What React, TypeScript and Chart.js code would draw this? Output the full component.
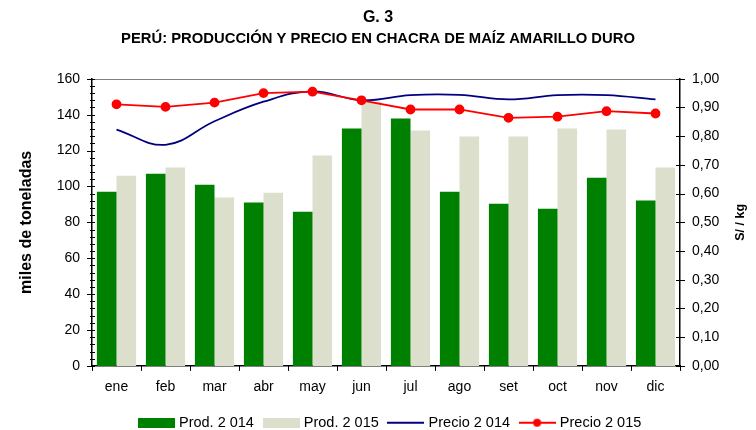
import { useEffect, useRef } from 'react';
import { Chart, registerables } from 'chart.js';

Chart.register(...registerables);

const months = ['ene', 'feb', 'mar', 'abr', 'may', 'jun', 'jul', 'ago', 'set', 'oct', 'nov', 'dic'];
const prod2014 = [97.1, 107.1, 101, 91, 85.9, 132.3, 137.8, 97.1, 90.4, 87.6, 104.9, 92.1];
const prod2015 = [106, 110.5, 93.8, 96.5, 117.2, 147.3, 131.1, 127.8, 127.8, 132.3, 131.7, 110.5];
const precio2014 = [0.823, 0.77, 0.852, 0.92, 0.956, 0.925, 0.943, 0.944, 0.928, 0.943, 0.943, 0.928];
const precio2015 = [0.911, 0.902, 0.917, 0.95, 0.955, 0.925, 0.893, 0.893, 0.864, 0.868, 0.887, 0.879];
const seriesNames = ['Prod. 2 014', 'Prod. 2 015', 'Precio 2 014', 'Precio 2 015'];
const leftTitle = 'miles de toneladas';
const rightTitle = 'S/ / kg';
const leftMax = 160;
const leftStep = 20;
const rightMax = 1;
const rightStep = 0.1;

const GREEN = '#008000';
const BEIGE = '#dcdfcb';
const NAVY = '#000080';
const RED = '#ff0000';

function swatch(kind: 'box' | 'line' | 'dot', color: string) {
  const c = document.createElement('canvas');
  c.width = 37;
  c.height = 10;
  const g = c.getContext('2d')!;
  if (kind === 'box') {
    g.fillStyle = color;
    g.fillRect(0, 0, 37, 10);
  } else {
    g.strokeStyle = color;
    g.lineWidth = 2;
    g.beginPath();
    g.moveTo(0, 5);
    g.lineTo(37, 5);
    g.stroke();
    if (kind === 'dot') {
      g.fillStyle = color;
      g.beginPath();
      g.arc(18.5, 5, 4, 0, Math.PI * 2);
      g.fill();
    }
  }
  return c;
}

const axisTicks = {
  id: 'axisTicks',
  afterDraw(chart: any) {
    const { ctx, chartArea: a, scales } = chart;
    const ln = (x1: number, y1: number, x2: number, y2: number) => {
      ctx.beginPath();
      ctx.moveTo(x1, y1);
      ctx.lineTo(x2, y2);
      ctx.stroke();
    };
    ctx.save();
    ctx.lineWidth = 1;
    ctx.strokeStyle = '#808080';
    ln(a.left, Math.round(a.top) + 0.5, a.right, Math.round(a.top) + 0.5);
    ctx.strokeStyle = '#000';
    const y = scales.y;
    for (let v = 0; v <= leftMax; v += 4) {
      const p = Math.round(y.getPixelForValue(v)) + 0.5;
      const major = v % leftStep === 0;
      ln(a.left - (major ? 5 : 2), p, a.left + 3, p);
    }
    const y1 = scales.y1;
    for (let i = 0; i <= 10; i++) {
      const p = Math.round(y1.getPixelForValue(i * rightStep)) + 0.5;
      ln(a.right - 4, p, a.right + 5, p);
    }
    const x = scales.x;
    for (let i = 0; i <= months.length; i++) {
      const px = Math.round(x.getPixelForValue(i - 0.5)) + 0.5;
      ln(px, a.bottom, px, a.bottom + 5);
    }
    // right axis title, rotated like the left one
    ctx.fillStyle = '#000';
    ctx.font = 'bold 12.5px "Liberation Sans", Arial, sans-serif';
    ctx.textAlign = 'center';
    ctx.textBaseline = 'middle';
    ctx.translate(y1.right - 15, (a.top + a.bottom) / 2);
    ctx.rotate(-Math.PI / 2);
    ctx.fillText(rightTitle, 0, 0);
    ctx.restore();
  },
};

const legendShift = {
  id: 'legendShift',
  afterLayout(chart: any) {
    const l = chart.legend;
    if (l) {
      l.left += 13;
      l.right += 13;
      l.top += 10;
      l.bottom += 10;
    }
  },
};

export default function App() {
  const ref = useRef<HTMLCanvasElement>(null);
  useEffect(() => {
    Chart.defaults.font.family = '"Liberation Sans", Arial, sans-serif';
    Chart.defaults.color = '#000';
    const styles = [swatch('box', GREEN), swatch('box', BEIGE), swatch('line', NAVY), swatch('dot', RED)];
    const chart = new Chart(ref.current!, {
      type: 'bar',
      data: {
        labels: months,
        datasets: [
          { type: 'bar', label: seriesNames[0], data: prod2014, backgroundColor: GREEN, yAxisID: 'y', order: 2, barPercentage: 1, categoryPercentage: 0.8 },
          { type: 'bar', label: seriesNames[1], data: prod2015, backgroundColor: BEIGE, yAxisID: 'y', order: 2, barPercentage: 1, categoryPercentage: 0.8 },
          { type: 'line', label: seriesNames[2], data: precio2014, borderColor: NAVY, borderWidth: 1.8, pointRadius: 0, tension: 0.4, yAxisID: 'y1', order: 1 },
          { type: 'line', label: seriesNames[3], data: precio2015, borderColor: RED, backgroundColor: RED, borderWidth: 1.8, pointRadius: 4, pointBackgroundColor: RED, pointBorderColor: RED, tension: 0, yAxisID: 'y1', order: 0 },
        ] as any,
      },
      options: {
        responsive: false,
        animation: false,
        layout: { padding: 0 },
        plugins: {
          tooltip: { enabled: false },
          title: {
            display: true,
            text: 'G. 3',
            font: { size: 16, weight: 'bold' },
            color: '#000',
            padding: { top: 8, bottom: 0 },
          },
          subtitle: {
            display: true,
            text: 'PERÚ: PRODUCCIÓN Y PRECIO EN CHACRA DE MAÍZ AMARILLO DURO',
            font: { size: 14.8, weight: 'bold' },
            color: '#000',
            padding: { top: 2.8, bottom: 31 },
          },
          legend: {
            position: 'bottom',
            labels: {
              usePointStyle: true,
              pointStyleWidth: 31,
              boxHeight: 10,
              padding: 11.6,
              font: { size: 14.5 },
              color: '#000',
              generateLabels: () =>
                seriesNames.map((t, i) => ({
                  text: t,
                  pointStyle: styles[i],
                  fillStyle: 'transparent',
                  strokeStyle: 'transparent',
                  lineWidth: 0,
                  hidden: false,
                  datasetIndex: i,
                  fontColor: '#000',
                })) as any,
            },
          },
        },
        scales: {
          x: {
            type: 'category',
            offset: true,
            grid: { display: false, drawTicks: false, offset: true },
            border: { display: true, color: '#000', width: 1.5 },
            ticks: { font: { size: 14 }, padding: 13, color: '#000' },
            afterFit: (s: any) => { s.height = 28; },
          },
          y: {
            position: 'left',
            min: 0,
            max: leftMax,
            grid: { display: false, drawTicks: false },
            border: { display: true, color: '#000', width: 1.5 },
            ticks: { stepSize: leftStep, font: { size: 14 }, padding: 12, color: '#000' },
            title: { display: true, text: leftTitle, font: { size: 16, weight: 'bold' }, color: '#000', padding: { top: 17, bottom: 0 } },
            afterFit: (s: any) => { s.width = 92; },
          },
          y1: {
            position: 'right',
            min: 0,
            max: rightMax,
            grid: { display: false, drawTicks: false },
            border: { display: true, color: '#000', width: 1.5 },
            ticks: {
              stepSize: rightStep,
              font: { size: 14 },
              padding: 12,
              color: '#000',
              callback: (v: any) => Number(v).toFixed(2).replace('.', ','),
            },
            title: { display: false },
            afterFit: (s: any) => { s.width = 76; },
          },
        },
      } as any,
      plugins: [axisTicks, legendShift],
    });
    return () => chart.destroy();
  }, []);
  return (
    <div style={{ position: 'fixed', left: 0, top: 0, width: 756, height: 430, background: '#fff' }}>
      <canvas ref={ref} width={756} height={430} style={{ display: 'block' }} />
    </div>
  );
}
